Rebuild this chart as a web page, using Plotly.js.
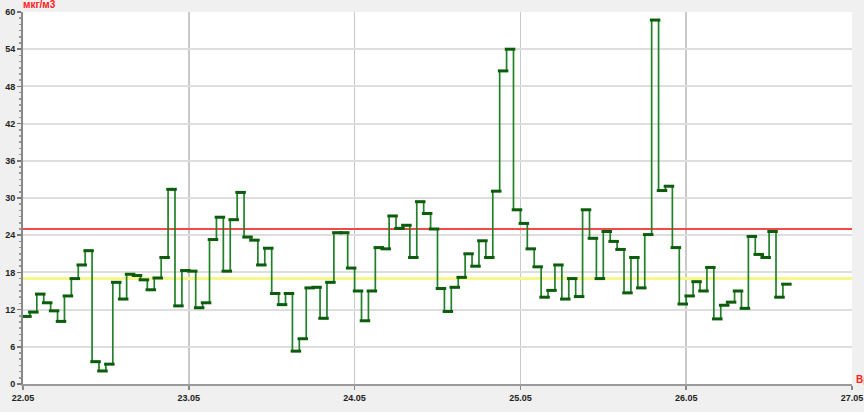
<!DOCTYPE html>
<html>
<head>
<meta charset="utf-8">
<script src="https://cdn.plot.ly/plotly-3.0.1.min.js"></script>
<style>
html,body{margin:0;padding:0;background:#f0f0f0;}
#chart{width:864px;height:412px;}
</style>
</head>
<body>
<div id="chart"></div>
<script>
// Hourly concentration values (мкг/м3) starting 22.05 00:00
const START = '2023-05-22T00:00:00';
const values = [
  10.9, 11.6, 14.5, 13.1, 11.8, 10.1, 14.2, 17.0, 19.2, 21.5,
  3.6, 2.1, 3.2, 16.4, 13.7, 17.7, 17.5, 16.8, 15.2, 17.1,
  20.4, 31.4, 12.6, 18.3, 18.2, 12.3, 13.1, 23.3, 26.9, 18.2,
  26.5, 30.9, 23.7, 23.2, 19.2, 21.9, 14.6, 12.8, 14.6, 5.3,
  7.3, 15.5, 15.6, 10.6, 16.4, 24.4, 24.4, 18.7, 15.0, 10.2,
  15.0, 22.0, 21.8, 27.1, 25.1, 25.6, 20.4, 29.4, 27.5, 25.0,
  15.4, 11.7, 15.6, 17.2, 21.0, 19.0, 23.1, 20.4, 31.1, 50.5,
  54.0, 28.1, 25.9, 21.8, 18.9, 14.0, 15.1, 19.2, 13.7, 17.0,
  14.1, 28.1, 23.5, 17.0, 24.6, 23.0, 21.7, 14.7, 20.4, 15.5,
  24.1, 58.7, 31.2, 31.9, 22.0, 12.9, 14.2, 16.5, 15.0, 18.8,
  10.5, 12.7, 13.2, 15.0, 12.2, 23.8, 20.9, 20.4, 24.6, 14.0,
  16.1
];
const limitRed = 25;      // ПДК
const limitYellow = 17;   // second threshold
const yTicks = [0, 6, 12, 18, 24, 30, 36, 42, 48, 54, 60];
const xTickLabels = ['22.05', '23.05', '24.05', '25.05', '26.05', '27.05'];
const yTitle = 'мкг/м3';
const xTitle = 'Время';

const H = 3600 * 1000;
const t0 = new Date(START + 'Z').getTime();
function iso(ms){ return new Date(ms).toISOString().slice(0,19).replace('T',' '); }

// step line points (hour starts, plus closing point)
const stepX = [], stepY = [];
values.forEach((v, i) => { stepX.push(iso(t0 + i * H)); stepY.push(v); });
stepX.push(iso(t0 + values.length * H)); stepY.push(values[values.length - 1]);
// hour-centre markers (thick bars)
const barX = values.map((v, i) => iso(t0 + (i + 0.5) * H));
const tickVals = xTickLabels.map((s, i) => iso(t0 + i * 24 * H));

const traces = [
  {x: [iso(t0), iso(t0 + 5 * 24 * H)], y: [limitYellow, limitYellow], mode: 'lines',
   line: {color: '#f7f78a', width: 3}, hoverinfo: 'skip'},
  {x: [iso(t0), iso(t0 + 5 * 24 * H)], y: [limitRed, limitRed], mode: 'lines',
   line: {color: '#f24a4a', width: 2.2}, hoverinfo: 'skip'},
  {x: stepX, y: stepY, mode: 'lines', line: {shape: 'hv', color: '#23802a', width: 1.7}},
  {x: barX, y: values, mode: 'markers',
   marker: {symbol: 'line-ew', size: 7.5, line: {color: '#0b5c0b', width: 3}}}
];

const layout = {
  width: 864, height: 412,
  margin: {l: 23, r: 12, t: 12, b: 28},
  paper_bgcolor: '#f0f0f0',
  plot_bgcolor: '#ffffff',
  showlegend: false,
  font: {family: 'Liberation Sans, Arial, sans-serif', size: 9, color: '#222'},
  xaxis: {
    type: 'date',
    range: [iso(t0), iso(t0 + 5 * 24 * H)],
    tickvals: tickVals, ticktext: xTickLabels,
    ticks: 'outside', ticklen: 4, tickcolor: '#888', tickwidth: 1.5,
    showgrid: true, gridcolor: '#c9c9c9', gridwidth: 1.5,
    showline: true, linecolor: '#9a9a9a', linewidth: 2,
    zeroline: false,
    tickfont: {family: 'Liberation Sans, Arial, sans-serif', size: 9, color: '#222', weight: 'bold'}
  },
  yaxis: {
    range: [0, 60],
    tickvals: yTicks,
    ticks: 'outside', ticklen: 4, tickcolor: '#777', tickwidth: 1.5,
    minor: {dtick: 1, ticks: 'outside', ticklen: 2, tickcolor: '#999', showgrid: false},
    showgrid: true, gridcolor: '#dedede', gridwidth: 2,
    showline: true, linecolor: '#888', linewidth: 2,
    zeroline: false,
    tickfont: {family: 'Liberation Sans, Arial, sans-serif', size: 9, color: '#222', weight: 'bold'}
  },
  annotations: [
    {text: yTitle, xref: 'paper', yref: 'paper', x: 0, y: 1, xanchor: 'left', yanchor: 'bottom',
     xshift: -2, showarrow: false, font: {family: 'Liberation Sans, Arial, sans-serif', size: 10, color: '#ff2020', weight: 'bold'}},
    {text: xTitle, xref: 'paper', yref: 'paper', x: 1, y: 0, xanchor: 'left', yanchor: 'middle',
     xshift: 2, yshift: 5, showarrow: false, font: {family: 'Liberation Sans, Arial, sans-serif', size: 10, color: '#ff2020', weight: 'bold'}}
  ]
};

Plotly.newPlot('chart', traces, layout, {staticPlot: true, displayModeBar: false});
</script>
</body>
</html>
